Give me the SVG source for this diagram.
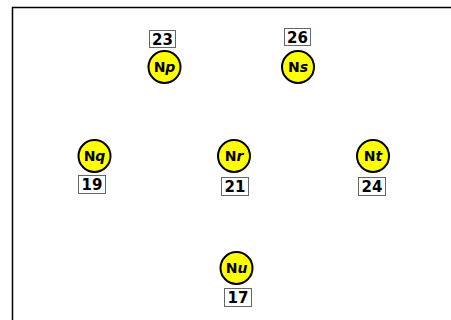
<svg xmlns="http://www.w3.org/2000/svg" width="451" height="320" viewBox="0 0 451 320">
<style>
.node{fill:#ffff00;stroke:#000;stroke-width:2}
.lbl{font-family:"DejaVu Sans",Verdana,sans-serif;font-weight:bold;font-size:14px;fill:#000;text-anchor:middle}
.box{fill:#fff;stroke:#666;stroke-width:1}
.num{font-family:"DejaVu Sans",Verdana,sans-serif;font-weight:bold;font-size:15px;fill:#000;text-anchor:middle}
</style>
<rect width="451" height="320" fill="#fff"/>
<path d="M12.5 320 V7.5 H451" fill="none" stroke="#000" stroke-width="1.5"/>
<g id="connectors"></g>
<g id="Np">
<rect class="box" x="149.5" y="30.5" width="26" height="17"/>
<text class="num" x="162.5" y="44.5">23</text>
<circle class="node" cx="164.5" cy="67" r="16"/>
<text class="lbl" x="164.5" y="72">N<tspan font-style="italic">p</tspan></text>
</g>
<g id="Ns">
<rect class="box" x="284.5" y="28.5" width="26" height="17"/>
<text class="num" x="297.5" y="42.5">26</text>
<circle class="node" cx="298" cy="67" r="16"/>
<text class="lbl" x="298" y="72">N<tspan font-style="italic">s</tspan></text>
</g>
<g id="Nq">
<rect class="box" x="78.5" y="175.5" width="27" height="18"/>
<text class="num" x="92" y="190">19</text>
<circle class="node" cx="94.5" cy="156" r="16"/>
<text class="lbl" x="94.5" y="161">N<tspan font-style="italic">q</tspan></text>
</g>
<g id="Nr">
<rect class="box" x="221.5" y="177.5" width="27" height="18"/>
<text class="num" x="235" y="192">21</text>
<circle class="node" cx="234" cy="156" r="16"/>
<text class="lbl" x="234" y="161">N<tspan font-style="italic">r</tspan></text>
</g>
<g id="Nt">
<rect class="box" x="358.5" y="177.5" width="27" height="18"/>
<text class="num" x="372" y="192">24</text>
<circle class="node" cx="373" cy="156" r="16"/>
<text class="lbl" x="373" y="161">N<tspan font-style="italic">t</tspan></text>
</g>
<g id="Nu">
<rect class="box" x="224.5" y="288.5" width="27" height="18"/>
<text class="num" x="238" y="303">17</text>
<circle class="node" cx="236.5" cy="268" r="16"/>
<text class="lbl" x="236.5" y="273">N<tspan font-style="italic">u</tspan></text>
</g>
</svg>
